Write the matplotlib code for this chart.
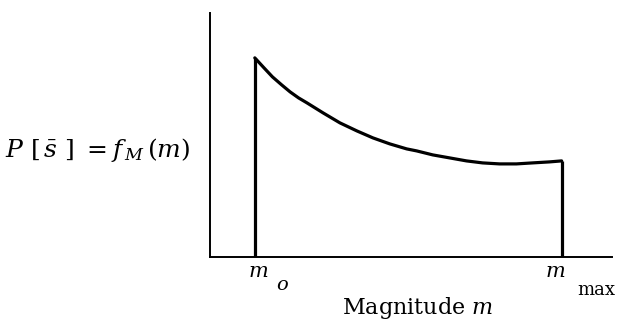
# Truncated magnitude density f_M(m) between m_o and m_max.
import numpy as np
import matplotlib.pyplot as plt

plt.rcParams['mathtext.fontset'] = 'dejavuserif'
plt.rcParams['font.family'] = ['DejaVu Serif']

# Bounds of the magnitude range (arbitrary units)
m_min = 4.0
m_max = 8.0

# Density values
m = [4.00, 4.12, 4.23, 4.35, 4.46, 4.57, 4.68, 4.89, 5.11, 5.33, 5.54,
     5.76, 5.98, 6.11, 6.32, 6.54, 6.76, 6.97, 7.19, 7.41, 7.62, 7.84, 8.00]
f = [1.99, 1.89, 1.80, 1.72, 1.65, 1.59, 1.54, 1.44, 1.34, 1.26, 1.19,
     1.13, 1.08, 1.06, 1.02, 0.99, 0.96, 0.94, 0.93, 0.93, 0.94, 0.95, 0.96]

fig = plt.figure(figsize=(6.19, 3.29), dpi=100)
ax = fig.add_axes([0.339, 0.219, 0.649, 0.742])

# Curve and the two vertical cut-offs
ax.plot(m, f, color='black', lw=2.3, solid_capstyle='round')
ax.vlines([m_min, m_max], 0, [f[0], f[-1]], color='black', lw=2.3)

ax.set_xlim(3.414, 8.651)
ax.set_ylim(0, 2.44)
ax.spines['top'].set_visible(False)
ax.spines['right'].set_visible(False)
ax.spines['left'].set_linewidth(1.4)
ax.spines['bottom'].set_linewidth(1.4)
ax.set_xticks([])
ax.set_yticks([])

# Labels below the axis at m_o and m_max
tr = ax.get_xaxis_transform()
ax.text(3.91, -0.02, r'$m$', transform=tr, fontsize=15, ha='left', va='top')
ax.text(4.27, -0.08, r'$o$', transform=tr, fontsize=14, ha='left', va='top')
ax.text(7.78, -0.02, r'$m$', transform=tr, fontsize=15, ha='left', va='top')
ax.text(8.21, -0.10, 'max', transform=tr, fontsize=13, ha='left', va='top')

fig.text(0.675, 0.025, r'Magnitude $m$', fontsize=16, ha='center', va='bottom')
fig.text(0.008, 0.545, r'$P\ [\,\bar{s}\ ]\ = f_{\,M}\,(m)$', fontsize=18,
         ha='left', va='center')

fig.savefig('out.png', dpi=100)
